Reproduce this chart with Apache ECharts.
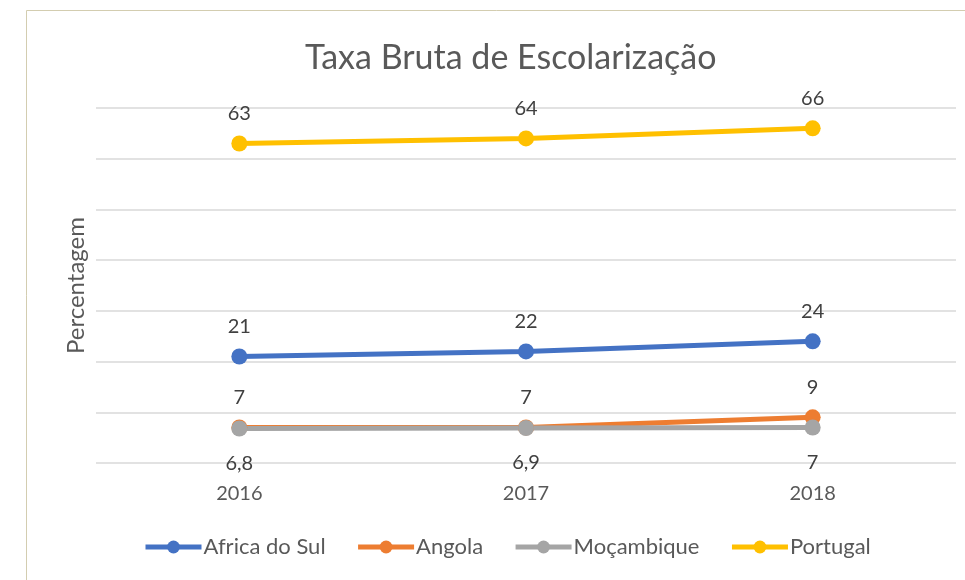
<!DOCTYPE html>
<html><head><meta charset="utf-8">
<script src="https://cdn.jsdelivr.net/npm/echarts@6/dist/echarts.min.js"></script>
<style>html,body{margin:0;padding:0;background:#fff}#c{width:965px;height:580px}</style>
</head><body><div id="c"></div>
<script>
const categories = ['2016', '2017', '2018'];
const africaDoSul = [21, 22, 24];
const angola = [7, 7, 9];
const mocambique = [6.8, 6.9, 7];
const portugal = [63, 64, 66];
const seriesNames = ['Africa do Sul', 'Angola', 'Moçambique', 'Portugal'];
const colors = ['#4472C4', '#ED7D31', '#A5A5A5', '#FFC000'];
const FONT = 'Lato, "Noto Sans", sans-serif';
const fmt = p => String(p.value).replace('.', ',');

function mk(name, data, color, pos) {
  return {
    name, type: 'line', data,
    symbol: 'circle', symbolSize: 16,
    lineStyle: { width: 5, color },
    itemStyle: { color },
    label: { show: true, position: pos, distance: pos === 'top' ? 12 : 17, color: '#404040', fontSize: 20, fontFamily: FONT, formatter: fmt },
    emphasis: { disabled: true },
    animation: false
  };
}

const chart = echarts.init(document.getElementById('c'));
chart.setOption({
  backgroundColor: '#fff',
  title: { text: 'Taxa Bruta de Escolarização', left: 300, top: 36,
    textStyle: { fontFamily: FONT, fontSize: 34, fontWeight: 'normal', color: '#595959' } },
  graphic: [{ type: 'rect', shape: { x: 26.5, y: 10.5, width: 1000, height: 1000 },
    style: { fill: 'none', stroke: '#D3CDB0', lineWidth: 1 }, silent: true }],
  grid: { left: 96, right: 9, top: 108, bottom: 117 },
  legend: {
    data: seriesNames, bottom: 17, left: 138, itemWidth: 56, itemHeight: 16, itemGap: 30,
    lineStyle: { width: 5 },
    textStyle: { fontFamily: FONT, fontSize: 22, color: '#595959', padding: [0, 0, 0, -3] }
  },
  xAxis: { type: 'category', data: categories, boundaryGap: true,
    axisLine: { show: false }, axisTick: { show: false },
    axisLabel: { fontFamily: FONT, fontSize: 20, color: '#595959', margin: 21 } },
  yAxis: { type: 'value', min: 0, max: 70, interval: 10,
    name: 'Percentagem', nameLocation: 'middle', nameGap: 8, nameRotate: 90,
    nameTextStyle: { fontFamily: FONT, fontSize: 24, color: '#595959' },
    axisLabel: { show: false }, axisLine: { show: false }, axisTick: { show: false },
    splitLine: { lineStyle: { color: '#D9D9D9', width: 1.5 } } },
  series: [
    mk(seriesNames[0], africaDoSul, colors[0], 'top'),
    mk(seriesNames[1], angola, colors[1], 'top'),
    mk(seriesNames[2], mocambique, colors[2], 'bottom'),
    mk(seriesNames[3], portugal, colors[3], 'top')
  ]
});
</script></body></html>
